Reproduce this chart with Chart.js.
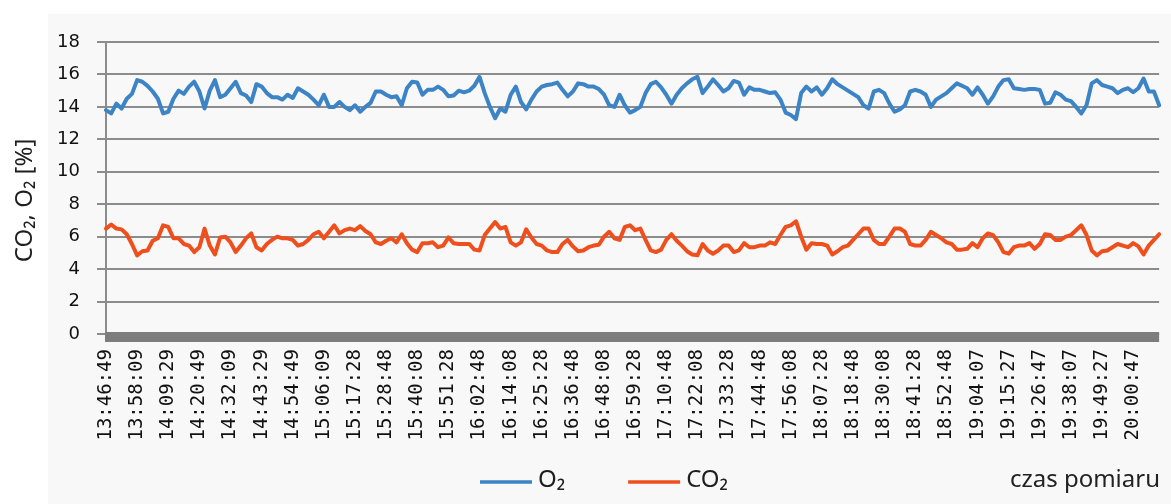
<!DOCTYPE html>
<html><head><meta charset="utf-8">
<script src="https://cdn.jsdelivr.net/npm/chart.js@4.4.1/dist/chart.umd.min.js"></script>
<style>
html,body{margin:0;padding:0;background:#fff;}
#wrap{position:relative;width:1171px;height:504px;overflow:hidden;}
#panel{position:absolute;left:48px;top:14px;right:0;bottom:0;background:#f8f8f8;}
canvas{position:absolute;left:0;top:0;}
</style></head><body>
<div id="wrap"><div id="panel"></div><canvas id="c" width="1171" height="504"></canvas></div>
<script>
// ---- data ----
const tickLabels = ['13:46:49','13:58:09','14:09:29','14:20:49','14:32:09','14:43:29','14:54:49','15:06:09','15:17:28','15:28:48','15:40:08','15:51:28','16:02:48','16:14:08','16:25:28','16:36:48','16:48:08','16:59:28','17:10:48','17:22:08','17:33:28','17:44:48','17:56:08','18:07:28','18:18:48','18:30:08','18:41:28','18:52:48','19:04:07','19:15:27','19:26:47','19:38:07','19:49:27','20:00:47'];
const pointsPerTick = 6;
const o2 = [13.8,13.6,14.2,13.9,14.5,14.8,15.65,15.55,15.3,14.95,14.5,13.6,13.7,14.5,15.0,14.8,15.25,15.55,14.95,13.9,15.0,15.65,14.6,14.75,15.15,15.55,14.85,14.7,14.3,15.4,15.25,14.85,14.6,14.6,14.45,14.75,14.55,15.15,14.95,14.75,14.45,14.1,14.75,14.0,14.0,14.3,14.0,13.8,14.1,13.7,14.0,14.25,
14.95,14.95,14.75,14.6,14.65,14.1,15.15,15.55,15.5,14.75,15.05,15.05,15.25,15.05,14.65,14.7,15.0,14.9,15.0,15.3,15.85,14.85,14.0,13.3,13.9,13.7,14.75,15.25,14.3,13.85,14.45,14.95,15.25,15.35,15.4,15.5,15.05,14.65,14.95,15.45,15.4,15.25,15.25,15.1,14.75,14.1,14.0,14.75,14.1,13.65,13.8,14.0,
14.85,15.4,15.55,15.2,14.75,14.2,14.75,15.15,15.45,15.7,15.85,14.85,15.25,15.7,15.35,14.95,15.15,15.6,15.5,14.75,15.2,15.05,15.05,14.95,14.85,14.9,14.45,13.65,13.5,13.25,14.85,15.25,14.95,15.2,14.75,15.15,15.7,15.4,15.2,15.0,14.8,14.6,14.1,13.9,14.95,15.05,14.85,14.2,13.7,13.85,14.1,
14.95,15.05,14.95,14.75,14.0,14.45,14.65,14.85,15.15,15.45,15.3,15.15,14.75,15.2,14.75,14.2,14.65,15.25,15.65,15.7,15.15,15.1,15.05,15.1,15.1,15.05,14.2,14.25,14.9,14.75,14.45,14.35,14.0,13.6,14.1,15.45,15.65,15.35,15.25,15.15,14.85,15.05,15.15,14.9,15.15,15.75,14.95,14.95,14.1];
const co2 = [6.5,6.75,6.5,6.45,6.15,5.55,4.85,5.1,5.15,5.75,5.9,6.7,6.6,5.9,5.9,5.55,5.45,5.05,5.35,6.5,5.45,4.9,5.95,6.0,5.65,5.05,5.45,5.9,6.2,5.35,5.15,5.55,5.8,6.0,5.9,5.9,5.8,5.45,5.55,5.8,6.15,6.3,5.9,6.3,6.7,6.2,6.4,6.5,6.4,6.65,6.35,6.15,
5.65,5.55,5.75,5.9,5.65,6.15,5.6,5.2,5.05,5.6,5.6,5.65,5.35,5.45,5.95,5.6,5.55,5.55,5.55,5.2,5.15,6.1,6.5,6.9,6.5,6.6,5.65,5.45,5.65,6.45,5.95,5.55,5.45,5.15,5.05,5.05,5.55,5.8,5.4,5.1,5.15,5.35,5.45,5.5,6.0,6.3,5.9,5.8,6.6,6.7,6.4,6.5,
5.8,5.15,5.05,5.2,5.8,6.15,5.75,5.45,5.1,4.9,4.85,5.55,5.15,4.95,5.15,5.45,5.45,5.05,5.15,5.6,5.35,5.35,5.45,5.45,5.65,5.55,6.1,6.6,6.7,6.95,6.0,5.2,5.6,5.55,5.55,5.45,4.9,5.1,5.35,5.45,5.8,6.15,6.5,6.5,5.8,5.55,5.55,6.0,6.5,6.5,6.3,
5.55,5.45,5.45,5.8,6.3,6.1,5.9,5.65,5.55,5.2,5.2,5.25,5.6,5.35,5.9,6.2,6.1,5.65,5.05,4.95,5.35,5.45,5.45,5.6,5.25,5.55,6.15,6.1,5.8,5.8,6.0,6.1,6.4,6.7,6.1,5.15,4.85,5.1,5.15,5.35,5.55,5.45,5.35,5.6,5.4,4.9,5.45,5.8,6.15];
const yMin = 0, yMax = 18, yStep = 2;
const seriesNames = ['O\u2082', 'CO\u2082'];
const seriesColors = ['#3c84c5', '#ef4f1c'];
const yTitle = 'CO\u2082, O\u2082 [%]';
const xTitle = 'czas pomiaru';

const categories = o2.map((_, i) => (i % pointsPerTick === 0 && tickLabels[i / pointsPerTick]) ? tickLabels[i / pointsPerTick] : '');

const floorBand = {
  id: 'floorBand',
  beforeDatasetsDraw(chart) {
    const {ctx, chartArea} = chart;
    const y0 = chart.scales.y.getPixelForValue(0);
    ctx.save();
    ctx.fillStyle = '#7d7d7d';
    ctx.fillRect(chartArea.left - 1, y0 - 2, chartArea.right - chartArea.left + 1, 10);
    ctx.restore();
  }
};

const bottomLegend = {
  id: 'bottomLegend',
  afterDraw(chart) {
    const {ctx} = chart;
    ctx.save();
    ctx.font = '24px "Noto Sans"';
    ctx.fillStyle = '#1e1e1e';
    ctx.textBaseline = 'alphabetic';
    const baseY = 487, lineY = 482;
    let x = 480;
    chart.data.datasets.forEach((ds) => {
      ctx.strokeStyle = ds.borderColor;
      ctx.lineWidth = 3.5;
      ctx.beginPath();
      ctx.moveTo(x, lineY);
      ctx.lineTo(x + 52, lineY);
      ctx.stroke();
      ctx.textAlign = 'left';
      ctx.fillText(ds.label, x + 58, baseY);
      x = x + 58 + ctx.measureText(ds.label).width + 63;
    });
    ctx.textAlign = 'right';
    ctx.fillStyle = '#222';
    ctx.fillText(xTitle, 1160, baseY);
    ctx.restore();
  }
};

new Chart(document.getElementById('c'), {
  type: 'line',
  data: {
    labels: categories,
    datasets: [
      {label: seriesNames[0], data: o2, borderColor: seriesColors[0], backgroundColor: seriesColors[0], borderWidth: 4, pointRadius: 0, tension: 0, borderJoinStyle: 'round', borderCapStyle: 'round'},
      {label: seriesNames[1], data: co2, borderColor: seriesColors[1], backgroundColor: seriesColors[1], borderWidth: 4, pointRadius: 0, tension: 0, borderJoinStyle: 'round', borderCapStyle: 'round'}
    ]
  },
  options: {
    responsive: false,
    devicePixelRatio: 1,
    animation: false,
    layout: {padding: {left: 0, right: 0, top: 42, bottom: 0}},
    plugins: {legend: {display: false}, tooltip: {enabled: false}},
    scales: {
      x: {
        type: 'category',
        grid: {display: false, drawTicks: false},
        border: {display: false},
        ticks: {
          autoSkip: false, maxRotation: 90, minRotation: 90, padding: 15,
          color: '#111', font: {family: '"DejaVu Sans Mono"', size: 19},
          callback(v, i) { const l = this.getLabelForValue(v); return l ? l : null; }
        },
        afterFit(s) { s.height = 170; }
      },
      y: {
        min: yMin, max: yMax,
        ticks: {stepSize: yStep, padding: 17, color: '#111', font: {family: '"DejaVu Sans"', size: 18}},
        grid: {color: '#8c8c8c', lineWidth: 2, tickLength: 9, drawTicks: true},
        border: {display: true, color: '#8c8c8c', width: 2},
        title: {display: true, text: yTitle + '    ', color: '#1e1e1e', font: {family: '"Noto Sans"', size: 24}, padding: {top: 11, bottom: 0}},
        afterFit(s) { s.width = 106; }
      }
    }
  },
  plugins: [floorBand, bottomLegend]
});
</script>
</body></html>
